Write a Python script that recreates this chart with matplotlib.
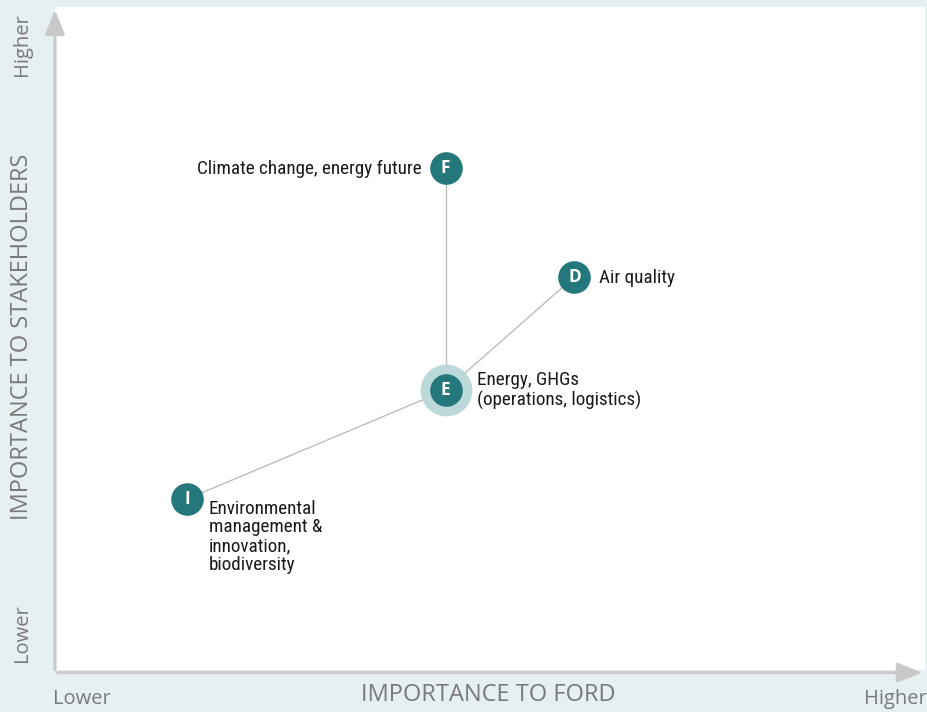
import matplotlib.pyplot as plt

# positions on a 0-100 scale (importance to Ford, importance to stakeholders)
codes = ['F', 'D', 'E', 'I']
ford = [44.9, 59.7, 44.9, 15.2]
stakeholders = [75.7, 59.3, 42.2, 25.8]
labels = ['Climate change, energy future', 'Air quality',
          'Energy, GHGs\n(operations, logistics)',
          'Environmental\nmanagement &\ninnovation,\nbiodiversity']
# every issue is linked to the hub E
links = [('F', 'E'), ('D', 'E'), ('I', 'E')]

teal = '#24777a'
halo = '#bcd9da'
grey_txt = '#7a7a7a'
arrow_col = '#c9c9c9'
label_font = ['Roboto Condensed', 'Liberation Sans Narrow', 'Roboto']
axis_font = ['Open Sans', 'DejaVu Sans']

fig = plt.figure(figsize=(9.28, 7.12), dpi=100)
fig.patch.set_facecolor('#e6eff1')
ax = fig.add_axes([55 / 928, 42 / 712, 870 / 928, 663 / 712])
ax.set_facecolor('white')
ax.set_xlim(0, 100)
ax.set_ylim(0, 100)
for s in ax.spines.values():
    s.set_visible(False)
ax.set_xticks([])
ax.set_yticks([])

# axis arrows
ax.annotate('', xy=(1.0, -0.004), xytext=(0, -0.004), xycoords='axes fraction',
            arrowprops=dict(arrowstyle='-|>,head_length=1.5,head_width=0.6',
                            color=arrow_col, lw=2.2), annotation_clip=False)
ax.annotate('', xy=(0, 1.0), xytext=(0, -0.004), xycoords='axes fraction',
            arrowprops=dict(arrowstyle='-|>,head_length=1.5,head_width=0.6',
                            color=arrow_col, lw=2.2), annotation_clip=False)

pos = {c: (x, y) for c, x, y in zip(codes, ford, stakeholders)}
for a, b in links:
    ax.plot([pos[a][0], pos[b][0]], [pos[a][1], pos[b][1]],
            color='#bdbdbd', lw=1, zorder=1)

# hub halo
ax.scatter([pos['E'][0]], [pos['E'][1]], s=1390, color=halo, zorder=2, lw=0)
ax.scatter(ford, stakeholders, s=550, color=teal, zorder=3, lw=0)
for c, x, y in zip(codes, ford, stakeholders):
    ax.text(x, y, c, color='white', fontsize=12.5, fontweight='bold',
            ha='center', va='center', zorder=4, family=axis_font)

# issue labels
txt = dict(fontsize=13.8, color='#1a1a1a', family=label_font)
ax.text(ford[0] - 2.8, stakeholders[0] - 0.15, labels[0], ha='right', va='center', **txt)
ax.text(ford[1] + 2.8, stakeholders[1] - 0.15, labels[1], ha='left', va='center', **txt)
ax.text(ford[2] + 3.6, stakeholders[2] + 0.0, labels[2], ha='left', va='center',
        linespacing=1.1, **txt)
ax.text(ford[3] + 2.5, stakeholders[3] - 0.1, labels[3], ha='left', va='top',
        linespacing=1.05, **txt)

# axis titles
fig.text(488 / 928, 1 - 695 / 712, 'IMPORTANCE TO FORD', ha='center', va='center',
         fontsize=17, color=grey_txt, family=axis_font)
fig.text(82 / 928, 1 - 699 / 712, 'Lower', ha='center', va='center',
         fontsize=14.5, color=grey_txt, family=axis_font)
fig.text(895 / 928, 1 - 699 / 712, 'Higher', ha='center', va='center',
         fontsize=14.5, color=grey_txt, family=axis_font)
fig.text(22 / 928, 1 - 337 / 712, 'IMPORTANCE TO STAKEHOLDERS', ha='center',
         va='center', rotation=90, fontsize=17, color=grey_txt, family=axis_font)
fig.text(22 / 928, 1 - 45 / 712, 'Higher', ha='center', va='center', rotation=90,
         fontsize=14.5, color=grey_txt, family=axis_font)
fig.text(22 / 928, 1 - 633 / 712, 'Lower', ha='center', va='center', rotation=90,
         fontsize=14.5, color=grey_txt, family=axis_font)

fig.savefig('out.png', dpi=100, facecolor=fig.get_facecolor())
